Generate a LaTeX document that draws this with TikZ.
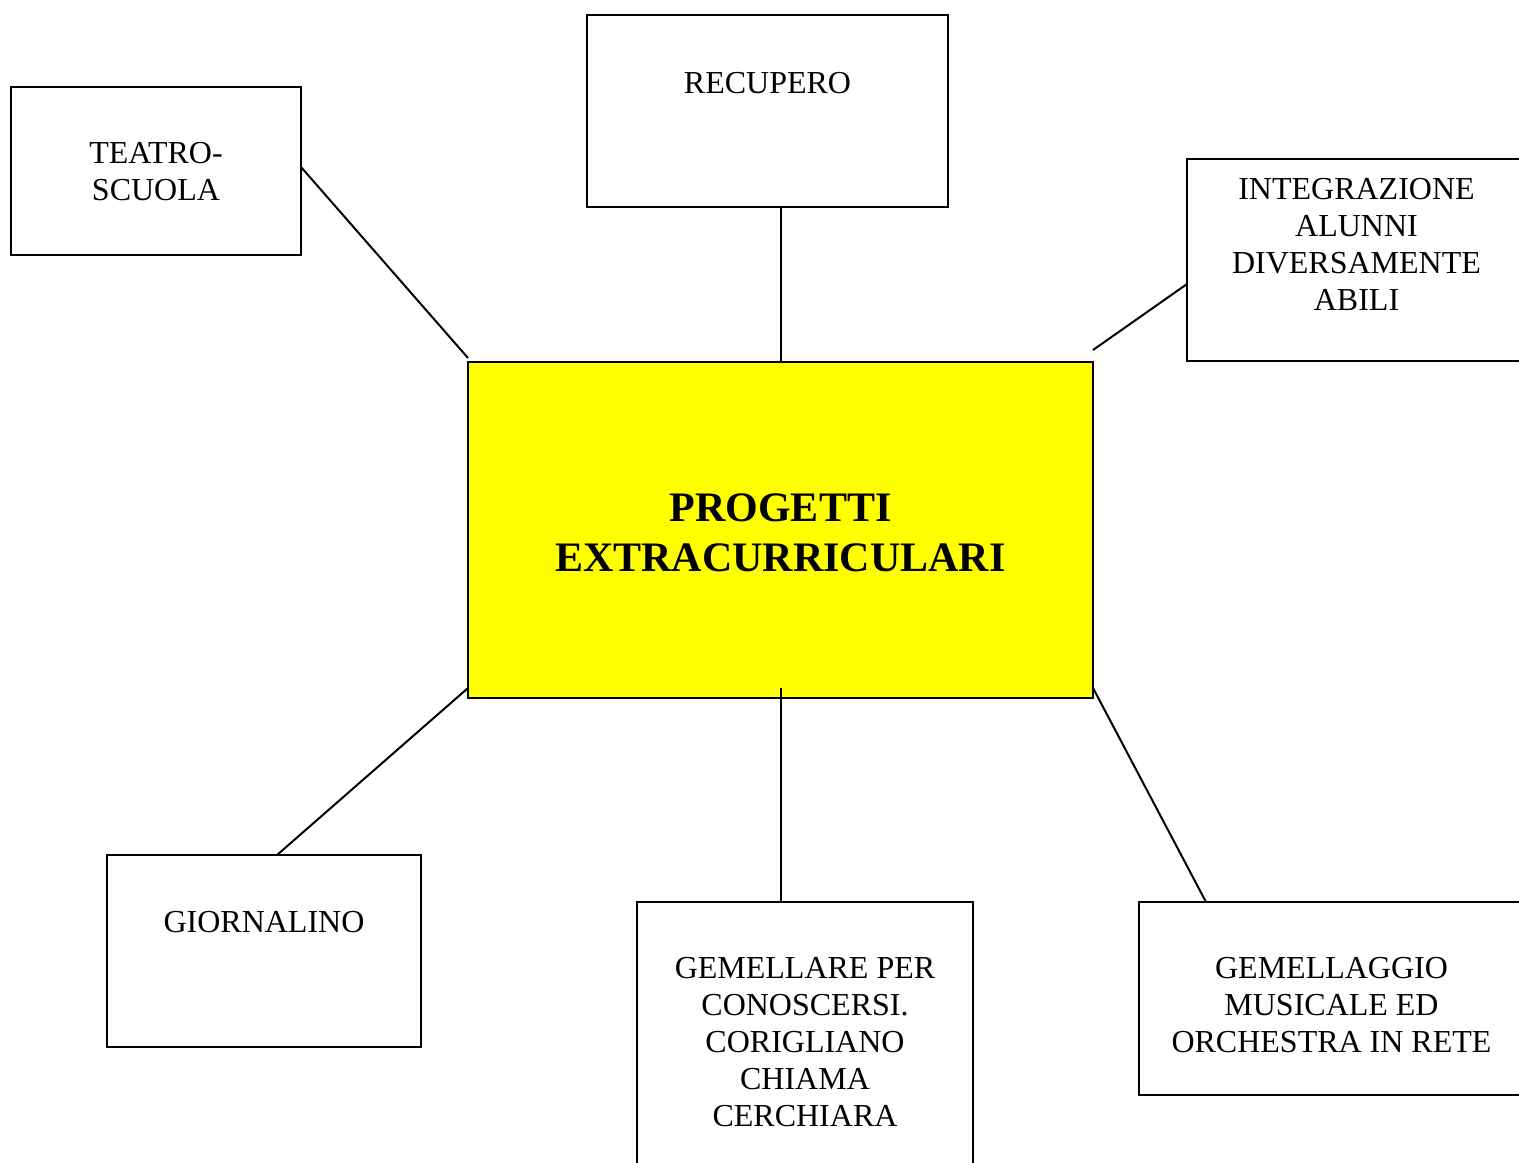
\documentclass[tikz,border=0pt]{standalone}
\usepackage{fontspec}
\setmainfont{Liberation Serif}
\definecolor{pureyellow}{RGB}{255,255,0}
\begin{document}
\begin{tikzpicture}[x=0.5pt,y=-0.5pt,
  box/.style={draw=black, line width=1pt, fill=white, rectangle, inner sep=0pt, outer sep=0pt},
  txt/.style={align=center, inner sep=0pt, font=\fontsize{16}{18.5}\selectfont},
  ttl/.style={align=center, inner sep=0pt, font=\fontsize{21}{25}\selectfont\bfseries},
  conn/.style={draw=black, line width=1pt}]
\useasboundingbox (0,0) rectangle (1519,1162);
\clip (0,0) rectangle (1519,1162);
\fill[white] (0,0) rectangle (1519,1162);
% boxes
\node[box, minimum width=145pt, minimum height=84pt] (teatro) at (156,171) {};
\node[box, minimum width=180.5pt, minimum height=96pt] (recupero) at (767.5,111) {};
\node[box, minimum width=169.5pt, minimum height=101pt] (integ) at (1356.5,260) {};
\node[box, fill=pureyellow, minimum width=312.5pt, minimum height=168pt] (center) at (780.5,530) {};
\node[box, minimum width=157pt, minimum height=96pt] (giornalino) at (264,951) {};
\node[box, minimum width=168pt, minimum height=139pt] (gemellare) at (805,1041) {};
\node[box, minimum width=192.5pt, minimum height=96.5pt] (gemellaggio) at (1331.5,998.5) {};
% texts
\node[txt] (tteatro) at (156,172) {TEATRO-\\SCUOLA};
\node[txt] (trecupero) at (767.5,83) {RECUPERO};
\node[txt] (tinteg) at (1356.5,244) {INTEGRAZIONE\\ALUNNI\\DIVERSAMENTE\\ABILI};
\node[ttl] (tcenter) at (780.5,533) {PROGETTI\\EXTRACURRICULARI};
\node[txt] (tgiornalino) at (264,922) {GIORNALINO};
\node[txt] (tgemellare) at (805,1042) {GEMELLARE PER\\CONOSCERSI.\\CORIGLIANO\\CHIAMA\\CERCHIARA};
\node[txt] (tgemellaggio) at (1331.5,1005) {GEMELLAGGIO\\MUSICALE ED\\ORCHESTRA IN RETE};
% connectors
\draw[conn] ([yshift=2pt]teatro.east) -- ([yshift=2pt]center.north west);
\draw[conn] (center.north) -- (center.north |- recupero.south);
\draw[conn] ([yshift=-12pt]integ.west) -- ([yshift=6pt]center.north east);
\draw[conn] ([yshift=5pt]center.south west) -- ([xshift=6.5pt]giornalino.north);
\draw[conn] ([yshift=5pt]center.south) -- (center.south |- gemellare.north);
\draw[conn] ([yshift=5pt]center.south east) -- ([xshift=33.5pt]gemellaggio.north west);
\end{tikzpicture}
\end{document}
